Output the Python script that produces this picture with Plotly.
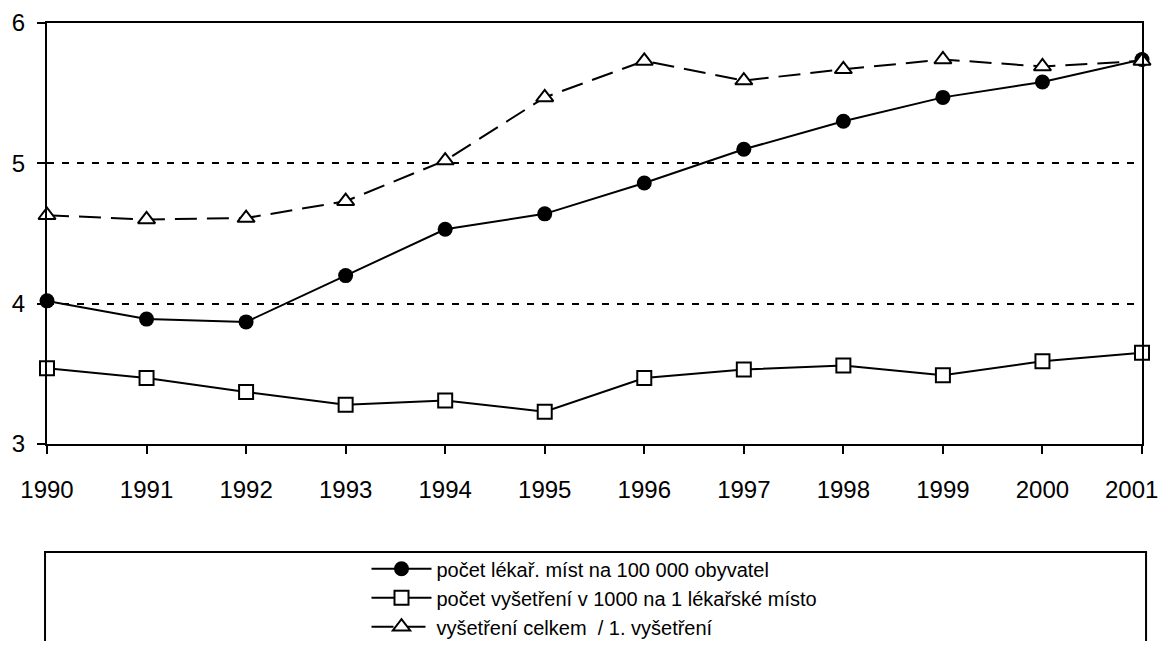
import plotly.graph_objects as go

# years on the x axis
years = list(range(1990, 2002))
year_labels = [str(y) for y in years]

# values
mista = [4.02, 3.89, 3.87, 4.20, 4.53, 4.64, 4.86, 5.10, 5.30, 5.47, 5.58, 5.74]
vysetreni = [3.54, 3.47, 3.37, 3.28, 3.31, 3.23, 3.47, 3.53, 3.56, 3.49, 3.59, 3.65]
celkem = [4.63, 4.60, 4.61, 4.73, 5.02, 5.47, 5.73, 5.59, 5.67, 5.74, 5.69, 5.73]

names = [
    "počet lékař. míst na 100 000 obyvatel",
    "počet vyšetření v 1000 na 1 lékařské místo",
    "vyšetření celkem  / 1. vyšetření",
]

font_family = "Liberation Sans, Arial, sans-serif"

fig = go.Figure()
fig.add_trace(go.Scatter(
    x=years, y=mista, name=names[0], mode="lines+markers",
    line=dict(color="black", width=2),
    marker=dict(symbol="circle", size=15, color="black"),
    cliponaxis=False,
))
fig.add_trace(go.Scatter(
    x=years, y=vysetreni, name=names[1], mode="lines+markers",
    line=dict(color="black", width=2),
    marker=dict(symbol="square", size=14, color="white",
                line=dict(color="black", width=2)),
    cliponaxis=False,
))
fig.add_trace(go.Scatter(
    x=years, y=celkem, name=names[2], mode="lines+markers",
    line=dict(color="black", width=2, dash="22px,10px"),
    marker=dict(symbol="triangle-up", size=15, color="white",
                line=dict(color="black", width=2)),
    cliponaxis=False,
))

# legend frame, runs off the bottom of the page like the original
fig.add_shape(type="rect", xref="paper", yref="paper",
              x0=-0.0018, x1=1.0037, y0=-0.2565, y1=-0.55,
              line=dict(color="black", width=2), fillcolor="rgba(0,0,0,0)")

# last year label sits at the page edge; pin its right side so it is not cut
fig.add_annotation(
    x=years[-1], xref="x", y=0, yref="paper", text=year_labels[-1],
    showarrow=False, xanchor="right", yanchor="middle",
    xshift=17, yshift=-45, font=dict(size=24), borderpad=0,
)

# the page has an 8px body margin; the height is cut so that no scrollbar
# appears, and the margins are shifted so the plot area sits right
fig.update_layout(
    width=1161, height=633,
    margin=dict(l=39, r=27, t=15, b=197, autoexpand=False),
    plot_bgcolor="white", paper_bgcolor="white",
    font=dict(family=font_family, color="black", size=24),
    showlegend=True,
    legend=dict(
        x=0.5, xanchor="center", y=-0.250, yanchor="top",
        font=dict(size=20), itemwidth=60,
        bgcolor="rgba(0,0,0,0)", tracegroupgap=0,
    ),
)
fig.update_xaxes(
    range=[1990, 2001], tickvals=years,
    ticktext=year_labels[:-1] + [""],
    showgrid=False, zeroline=False,
    showline=True, linecolor="black", linewidth=2, mirror=True,
    ticks="outside", ticklen=8, tickwidth=2, tickcolor="black",
    ticklabelstandoff=15, ticklabeloverflow="allow",
)
fig.update_yaxes(
    range=[3, 6], dtick=1, zeroline=False,
    showgrid=True, gridcolor="black", gridwidth=2, griddash="7px,8px",
    showline=True, linecolor="black", linewidth=2, mirror=True,
    ticks="outside", ticklen=8, tickwidth=2, tickcolor="black",
    ticklabelstandoff=7, ticklabeloverflow="allow",
)

fig.write_html("out.html")
